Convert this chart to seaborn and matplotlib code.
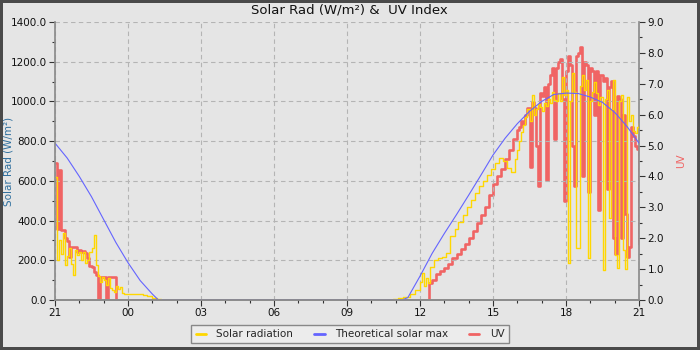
import numpy as np
import matplotlib
matplotlib.use("Agg")
import matplotlib.pyplot as plt
import seaborn as sns
from matplotlib.ticker import MultipleLocator, FormatStrFormatter

# x values are hours since 21:00 of the previous evening
hour_labels = ["21", "00", "03", "06", "09", "12", "15", "18", "21"]

# solar radiation (W/m2), 5-minute readings from 21:00
solar_eve = [620, 200, 300, 230, 337, 176, 220, 262, 180, 126, 250, 227,
             240, 200, 242, 186, 200, 242, 260, 327, 176, 120, 91, 116,
             100, 75, 110, 60, 50, 40, 70, 55, 65, 35, 32]
# night / morning, irregular readings
solar_mid_hours = [3.0, 3.2, 3.4, 3.6, 3.8, 4.0, 4.2, 4.35, 13.9, 14.1, 14.3,
                   14.6, 14.8, 15.0, 15.08, 15.17, 15.25, 15.33, 15.42, 15.58,
                   15.75, 15.92, 16.08, 16.25, 16.42, 16.58, 16.75, 16.92,
                   17.08, 17.25, 17.42, 17.58, 17.75, 17.92, 18.08, 18.25,
                   18.42, 18.58, 18.75, 18.92]
solar_mid = [30, 30, 28, 25, 18, 10, 5, 0, 3, 8, 15, 30, 50, 90, 136, 70, 110,
             85, 166, 200, 211, 218, 236, 320, 360, 395, 430, 470, 505, 540,
             575, 600, 630, 660, 690, 715, 700, 665, 645, 710]
# afternoon, 5-minute readings from 16:00 to 21:00
solar_pm = [755, 800, 845, 880, 921, 960, 900, 1032, 930, 960, 985, 972,
            950, 990, 975, 1010, 992, 1050, 1007, 1000, 1040, 1000, 1123, 1030,
            1060, 186, 1000, 1143, 1050, 262, 262, 1080, 1133, 1060, 1108, 211,
            1000, 1050, 1098, 1040, 980, 1020, 151, 1010, 1060, 413, 960, 1108,
            227, 161, 1000, 1032, 252, 156, 1022, 900, 931, 850, 840, 870, 890]

# UV index, same layout
uv_eve = [4.45, 2.3, 4.2, 2.27, 2.27, 2.0, 1.9, 1.4, 1.72, 1.72, 1.72, 1.55,
          1.62, 1.55, 1.6, 1.52, 1.36, 1.1, 1.07, 0.9, 0.8, 0.0, 0.74, 0.74,
          0.74, 0.0, 0.74, 0.74, 0.74, 0.74, 0.0, 0.0, 0.0, 0.0, 0.0]
uv_mid_hours = [15.37, 15.5, 15.67, 15.83, 16.0, 16.17, 16.33, 16.5, 16.67,
                16.83, 17.0, 17.17, 17.33, 17.5, 17.67, 17.83, 18.0, 18.17,
                18.33, 18.5, 18.67, 18.83]
uv_mid = [0.55, 0.65, 0.85, 0.95, 1.05, 1.17, 1.35, 1.5, 1.65, 1.8, 2.0, 2.25,
          2.5, 2.75, 3.0, 3.4, 3.75, 4.0, 4.25, 4.55, 4.85, 5.2]
uv_pm = [5.5, 5.6, 5.8, 5.7, 6.0, 6.2, 4.3, 6.4, 6.2, 5.0, 3.7, 6.7,
         6.6, 6.9, 3.9, 7.0, 7.3, 7.5, 5.2, 7.5, 7.7, 7.8, 6.5, 3.2,
         7.4, 7.9, 7.6, 5.0, 3.7, 7.9, 8.0, 8.2, 4.0, 7.7, 7.6, 3.5,
         7.5, 7.4, 6.0, 7.4, 2.9, 7.3, 7.1, 7.2, 3.6, 6.9, 7.1, 2.0,
         1.5, 6.6, 6.5, 2.0, 6.0, 2.8, 1.4, 1.7, 5.6, 5.3, 5.0, 4.9, 1.8]

# theoretical clear-sky maximum (W/m2)
theo_hours = [0, 0.5, 1, 1.5, 2, 2.5, 3, 3.5, 4, 4.25, 14.25, 14.5, 15, 15.5,
              16, 16.5, 17, 17.5, 18, 18.5, 19, 19.5, 20, 20.5, 21, 21.5, 22,
              22.5, 23, 23.5, 24]
theo_wm2 = [790, 715, 622, 520, 405, 290, 188, 98, 30, 0, 0, 12, 120, 235,
            335, 430, 528, 628, 730, 815, 888, 950, 1000, 1035, 1042, 1040,
            1022, 995, 945, 875, 790]

step = 5 / 60
eve_hours = np.arange(len(solar_eve)) * step
pm_hours = 19.0 + np.arange(len(solar_pm)) * step

solar_hours = np.concatenate([eve_hours, solar_mid_hours, pm_hours])
solar_vals = np.concatenate([solar_eve, solar_mid, solar_pm])
uv_hours = np.concatenate([eve_hours, uv_mid_hours, pm_hours])
uv_vals = np.concatenate([uv_eve, uv_mid, uv_pm])

BG = "#e5e5e5"
YELLOW = "#ffd700"
BLUE = "#6464ff"
RED = "#f06464"
SPINE = "#8c8c8c"

sns.set_theme(style="ticks", rc={
    "axes.facecolor": BG, "figure.facecolor": BG,
    "axes.edgecolor": SPINE, "xtick.color": "#333333", "ytick.color": "#333333",
    "xtick.labelcolor": "#111111", "ytick.labelcolor": "#111111",
    "font.size": 7.5,
})
plt.rcParams["font.family"] = ["DejaVu Sans"]

fig = plt.figure(figsize=(7, 3.5), dpi=100, facecolor=BG,
                 edgecolor="#4a4a4a", linewidth=4)
ax = fig.add_axes([55 / 700, 1 - 300 / 350, 584 / 700, 278 / 350])
ax2 = ax.twinx()
# solar axes above the UV axes so yellow/blue sit on top of the red
ax.set_zorder(ax2.get_zorder() + 1)
ax.patch.set_visible(False)
ax2.set_facecolor(BG)

sns.lineplot(x=uv_hours, y=uv_vals, ax=ax2, color=RED, lw=1.9,
             drawstyle="steps-post", estimator=None, sort=False, legend=False)
sns.lineplot(x=solar_hours, y=solar_vals, ax=ax, color=YELLOW, lw=1.0,
             drawstyle="steps-post", estimator=None, sort=False, legend=False)
sns.lineplot(x=theo_hours, y=theo_wm2, ax=ax, color=BLUE, lw=0.8,
             estimator=None, sort=False, legend=False)

ax.set_xlim(0, 24)
ax.set_ylim(0, 1400)
ax2.set_ylim(0, 9)
ax.set_xticks(np.arange(0, 25, 3))
ax.set_xticklabels(hour_labels)
ax.xaxis.set_minor_locator(MultipleLocator(1))
ax.yaxis.set_major_locator(MultipleLocator(200))
ax.yaxis.set_minor_locator(MultipleLocator(100))
ax.yaxis.set_major_formatter(FormatStrFormatter("%.1f"))
ax2.yaxis.set_major_locator(MultipleLocator(1))
ax2.yaxis.set_minor_locator(MultipleLocator(0.5))
ax2.yaxis.set_major_formatter(FormatStrFormatter("%.1f"))

for a in (ax, ax2):
    a.tick_params(which="major", length=4, width=0.8, labelsize=7.5, pad=2)
    a.tick_params(which="minor", length=2.5, width=0.8)
    a.spines["top"].set_visible(False)
    for s in a.spines.values():
        s.set_color(SPINE)
ax2.spines["left"].set_visible(False)
ax.spines["right"].set_visible(False)

ax.grid(True, which="major", color="#b4b4b4", ls=(0, (4, 3)), lw=0.8)

ax.set_xlabel("")
ax.set_ylabel("Solar Rad (W/m²)", color="#2e6f9e", fontsize=7.5)
ax.yaxis.set_label_coords(-41 / 584, 0.5)
ax2.set_ylabel("UV", color=RED, fontsize=7.5)
ax2.yaxis.set_label_coords(1 + 37 / 584, 0.5)

fig.text(0.499, 1 - 10 / 350, "Solar Rad (W/m²) &  UV Index",
         ha="center", va="center", fontsize=9.5, color="#111111")

handles = [plt.Line2D([], [], color=YELLOW, lw=2),
           plt.Line2D([], [], color=BLUE, lw=2),
           plt.Line2D([], [], color=RED, lw=2)]
labels = ["Solar radiation", "Theoretical solar max", "UV"]
fig.legend(handles, labels, loc="lower center", bbox_to_anchor=(0.5, 0.004),
           ncol=3, fontsize=7.5, frameon=True, fancybox=False,
           edgecolor="#888888", facecolor="#ececec", framealpha=1,
           handlelength=1.0, columnspacing=2.0, borderpad=0.4,
           handletextpad=1.0)

fig.savefig("out.png", dpi=100, facecolor=fig.get_facecolor(),
            edgecolor=fig.get_edgecolor())
